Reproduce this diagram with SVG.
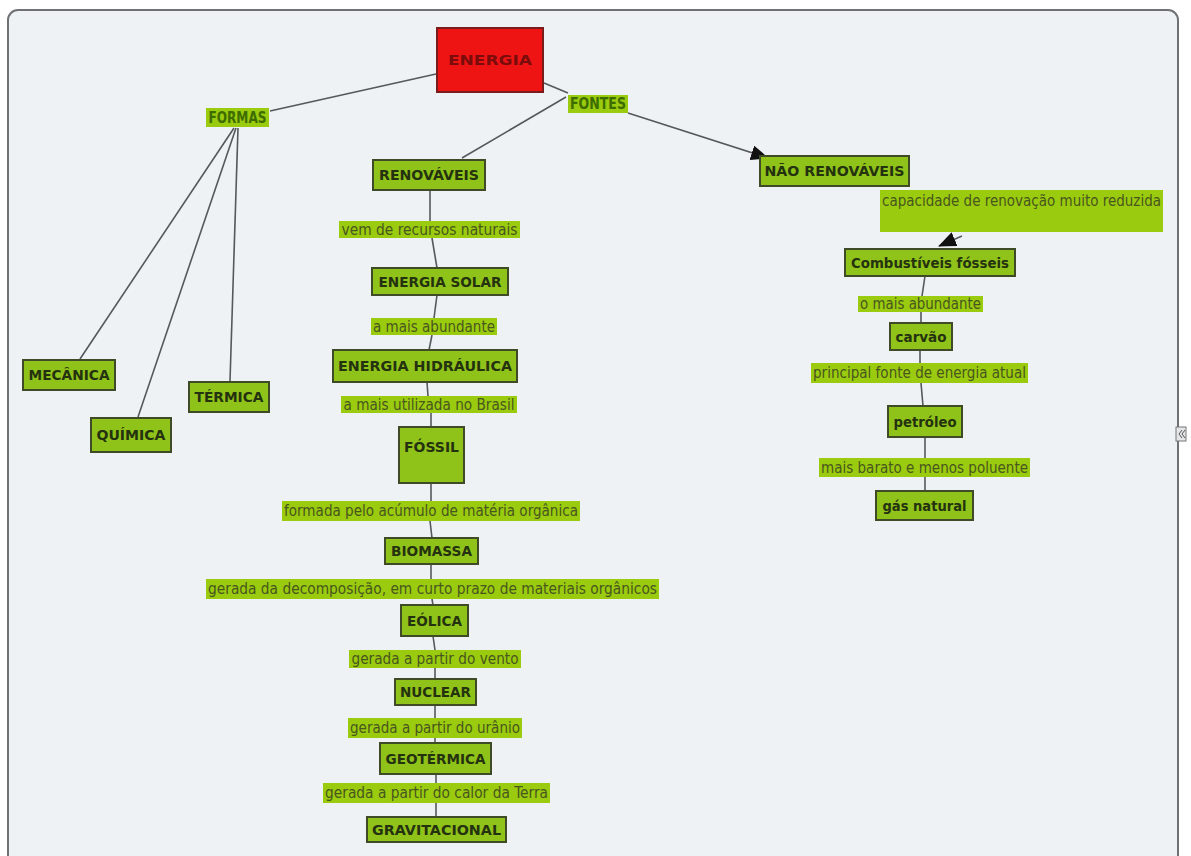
<svg xmlns="http://www.w3.org/2000/svg" width="1191" height="856" viewBox="0 0 1191 856">
<defs>
<style>
.box{fill:#8fc31a;stroke:#3f4b27;stroke-width:2}
.lbl{fill:#9acb0e}
.bt{font-family:"DejaVu Sans",Verdana,sans-serif;font-weight:bold;font-size:14px;fill:#24320f;text-anchor:middle;dominant-baseline:central}
.lt{font-family:"DejaVu Sans Condensed","DejaVu Sans",sans-serif;font-size:15px;fill:#48561f;text-anchor:middle;dominant-baseline:central}
.gt{font-family:"DejaVu Sans Condensed","DejaVu Sans",sans-serif;font-size:15px;font-weight:bold;fill:#3d6c00;text-anchor:middle;dominant-baseline:central}
.con{fill:none;stroke:#55585c;stroke-width:1.6}
</style>
<marker id="arr" markerUnits="userSpaceOnUse" markerWidth="18" markerHeight="15" refX="17" refY="7.5" orient="auto">
<path d="M0,0 L18,7.5 L0,15 Z" fill="#111"/>
</marker>
</defs>
<rect x="0" y="0" width="1191" height="856" fill="#ffffff"/>
<rect x="8" y="10" width="1170" height="860" rx="10" fill="#eef2f5" stroke="#6f7275" stroke-width="2"/>
<g id="collapse-icon">
<rect x="1176" y="427" width="10" height="14" fill="#e4e6e8" stroke="#777" stroke-width="1"/>
<path d="M1182,430 L1179,434 L1182,438 M1185,430 L1182,434 L1185,438" fill="none" stroke="#555" stroke-width="1"/>
</g>
<g id="connectors">
<path class="con" d="M436,74 L270,111"/>
<path class="con" d="M544,83 L568,93"/>
<path class="con" d="M566,97 L462,158"/>
<path class="con" d="M628,113 L768,158" marker-end="url(#arr)"/>
<path class="con" d="M234,128 L80,359"/>
<path class="con" d="M236,128 L138,417"/>
<path class="con" d="M238,128 L230,381"/>
<path class="con" d="M430,190 L430,221"/>
<path class="con" d="M432,238 L437,268"/>
<path class="con" d="M437,295 L434,318"/>
<path class="con" d="M432,335 L429,350"/>
<path class="con" d="M427,382 L428,396"/>
<path class="con" d="M431,413 L431,427"/>
<path class="con" d="M431,483 L431,501"/>
<path class="con" d="M430,521 L432,538"/>
<path class="con" d="M431,564 L431,579"/>
<path class="con" d="M432,599 L433,605"/>
<path class="con" d="M433,636 L435,650"/>
<path class="con" d="M435,668 L435,679"/>
<path class="con" d="M435,705 L435,718"/>
<path class="con" d="M435,738 L435,743"/>
<path class="con" d="M436,774 L436,783"/>
<path class="con" d="M436,803 L436,817"/>
<path class="con" d="M962,236 L939,246" marker-end="url(#arr)"/>
<path class="con" d="M925,276 L922,296"/>
<path class="con" d="M921,312 L921,323"/>
<path class="con" d="M920,350 L920,363"/>
<path class="con" d="M921,383 L923,406"/>
<path class="con" d="M925,437 L925,458"/>
<path class="con" d="M925,477 L925,491"/>
</g>
<g id="energia"><rect x="437" y="28" width="106" height="64" fill="#ef1414" stroke="#7a1c1c" stroke-width="2"/><text x="490" y="60" class="bt" style="fill:#7a0c0c" textLength="84" lengthAdjust="spacingAndGlyphs">ENERGIA</text></g>
<g id="formas"><rect class="lbl" x="206" y="108" width="63" height="19"/><text class="gt" x="237.5" y="117.5" textLength="58" lengthAdjust="spacingAndGlyphs">FORMAS</text></g>
<g id="fontes"><rect class="lbl" x="568" y="95" width="60" height="18"/><text class="gt" x="598" y="104" textLength="56" lengthAdjust="spacingAndGlyphs">FONTES</text></g>
<g id="renovaveis"><rect class="box" x="373" y="160" width="112" height="30"/><text class="bt" x="429" y="175" textLength="100" lengthAdjust="spacingAndGlyphs">RENOVÁVEIS</text></g>
<g id="nao-renovaveis"><rect class="box" x="760" y="156" width="149" height="30"/><text class="bt" x="834.5" y="171" textLength="140" lengthAdjust="spacingAndGlyphs">NÃO RENOVÁVEIS</text></g>
<g id="capacidade"><rect class="lbl" x="880" y="190" width="283" height="42"/><text class="lt" x="1021.5" y="201" textLength="279" lengthAdjust="spacingAndGlyphs">capacidade de renovação muito reduzida</text></g>
<g id="combustiveis"><rect class="box" x="845" y="249" width="170" height="27"/><text class="bt" x="930" y="262.5" textLength="158" lengthAdjust="spacingAndGlyphs">Combustíveis fósseis</text></g>
<g id="o-mais-abundante"><rect class="lbl" x="858" y="296" width="125" height="16"/><text class="lt" x="920.5" y="304" textLength="121" lengthAdjust="spacingAndGlyphs">o mais abundante</text></g>
<g id="carvao"><rect class="box" x="890" y="323" width="62" height="27"/><text class="bt" x="921" y="336.5" textLength="51" lengthAdjust="spacingAndGlyphs">carvão</text></g>
<g id="principal"><rect class="lbl" x="811" y="363" width="217" height="20"/><text class="lt" x="919.5" y="373" textLength="213" lengthAdjust="spacingAndGlyphs">principal fonte de energia atual</text></g>
<g id="petroleo"><rect class="box" x="888" y="406" width="74" height="31"/><text class="bt" x="925" y="421.5" textLength="63" lengthAdjust="spacingAndGlyphs">petróleo</text></g>
<g id="mais-barato"><rect class="lbl" x="819" y="458" width="211" height="19"/><text class="lt" x="924.5" y="467.5" textLength="207" lengthAdjust="spacingAndGlyphs">mais barato e menos poluente</text></g>
<g id="gas-natural"><rect class="box" x="876" y="491" width="97" height="29"/><text class="bt" x="924.5" y="505.5" textLength="84" lengthAdjust="spacingAndGlyphs">gás natural</text></g>
<g id="mecanica"><rect class="box" x="23" y="360" width="92" height="30"/><text class="bt" x="69" y="375" textLength="81" lengthAdjust="spacingAndGlyphs">MECÂNICA</text></g>
<g id="termica"><rect class="box" x="189" y="382" width="80" height="30"/><text class="bt" x="229" y="397" textLength="69" lengthAdjust="spacingAndGlyphs">TÉRMICA</text></g>
<g id="quimica"><rect class="box" x="91" y="418" width="80" height="34"/><text class="bt" x="131" y="435" textLength="69" lengthAdjust="spacingAndGlyphs">QUÍMICA</text></g>
<g id="vem"><rect class="lbl" x="339" y="221" width="181" height="17"/><text class="lt" x="429.5" y="229.5" textLength="176" lengthAdjust="spacingAndGlyphs">vem de recursos naturais</text></g>
<g id="solar"><rect class="box" x="372" y="268" width="136" height="27"/><text class="bt" x="440" y="281.5" textLength="123" lengthAdjust="spacingAndGlyphs">ENERGIA SOLAR</text></g>
<g id="a-mais-abundante"><rect class="lbl" x="371" y="318" width="126" height="17"/><text class="lt" x="434" y="326.5" textLength="122" lengthAdjust="spacingAndGlyphs">a mais abundante</text></g>
<g id="hidraulica"><rect class="box" x="333" y="350" width="184" height="32"/><text class="bt" x="425" y="366" textLength="174" lengthAdjust="spacingAndGlyphs">ENERGIA HIDRÁULICA</text></g>
<g id="utilizada"><rect class="lbl" x="341" y="396" width="176" height="17"/><text class="lt" x="429" y="404.5" textLength="171" lengthAdjust="spacingAndGlyphs">a mais utilizada no Brasil</text></g>
<g id="fossil"><rect class="box" x="399" y="427" width="65" height="56"/><text class="bt" x="431.5" y="447" textLength="55" lengthAdjust="spacingAndGlyphs">FÓSSIL</text></g>
<g id="formada"><rect class="lbl" x="282" y="501" width="298" height="20"/><text class="lt" x="431" y="511" textLength="294" lengthAdjust="spacingAndGlyphs">formada pelo acúmulo de matéria orgânica</text></g>
<g id="biomassa"><rect class="box" x="385" y="538" width="93" height="26"/><text class="bt" x="431.5" y="551" textLength="81" lengthAdjust="spacingAndGlyphs">BIOMASSA</text></g>
<g id="decomposicao"><rect class="lbl" x="206" y="579" width="453" height="20"/><text class="lt" x="432.5" y="589" textLength="449" lengthAdjust="spacingAndGlyphs">gerada da decomposição, em curto prazo de materiais orgânicos</text></g>
<g id="eolica"><rect class="box" x="401" y="605" width="67" height="31"/><text class="bt" x="434.5" y="620.5" textLength="55" lengthAdjust="spacingAndGlyphs">EÓLICA</text></g>
<g id="vento"><rect class="lbl" x="349" y="650" width="172" height="18"/><text class="lt" x="435" y="659" textLength="167" lengthAdjust="spacingAndGlyphs">gerada a partir do vento</text></g>
<g id="nuclear"><rect class="box" x="395" y="679" width="81" height="26"/><text class="bt" x="435.5" y="692" textLength="71" lengthAdjust="spacingAndGlyphs">NUCLEAR</text></g>
<g id="uranio"><rect class="lbl" x="348" y="718" width="174" height="20"/><text class="lt" x="435" y="728" textLength="170" lengthAdjust="spacingAndGlyphs">gerada a partir do urânio</text></g>
<g id="geotermica"><rect class="box" x="380" y="743" width="111" height="31"/><text class="bt" x="435.5" y="758.5" textLength="100" lengthAdjust="spacingAndGlyphs">GEOTÉRMICA</text></g>
<g id="calor"><rect class="lbl" x="323" y="783" width="227" height="20"/><text class="lt" x="436.5" y="793" textLength="223" lengthAdjust="spacingAndGlyphs">gerada a partir do calor da Terra</text></g>
<g id="gravitacional"><rect class="box" x="367" y="817" width="139" height="25"/><text class="bt" x="436.5" y="829.5" textLength="129" lengthAdjust="spacingAndGlyphs">GRAVITACIONAL</text></g>
</svg>
